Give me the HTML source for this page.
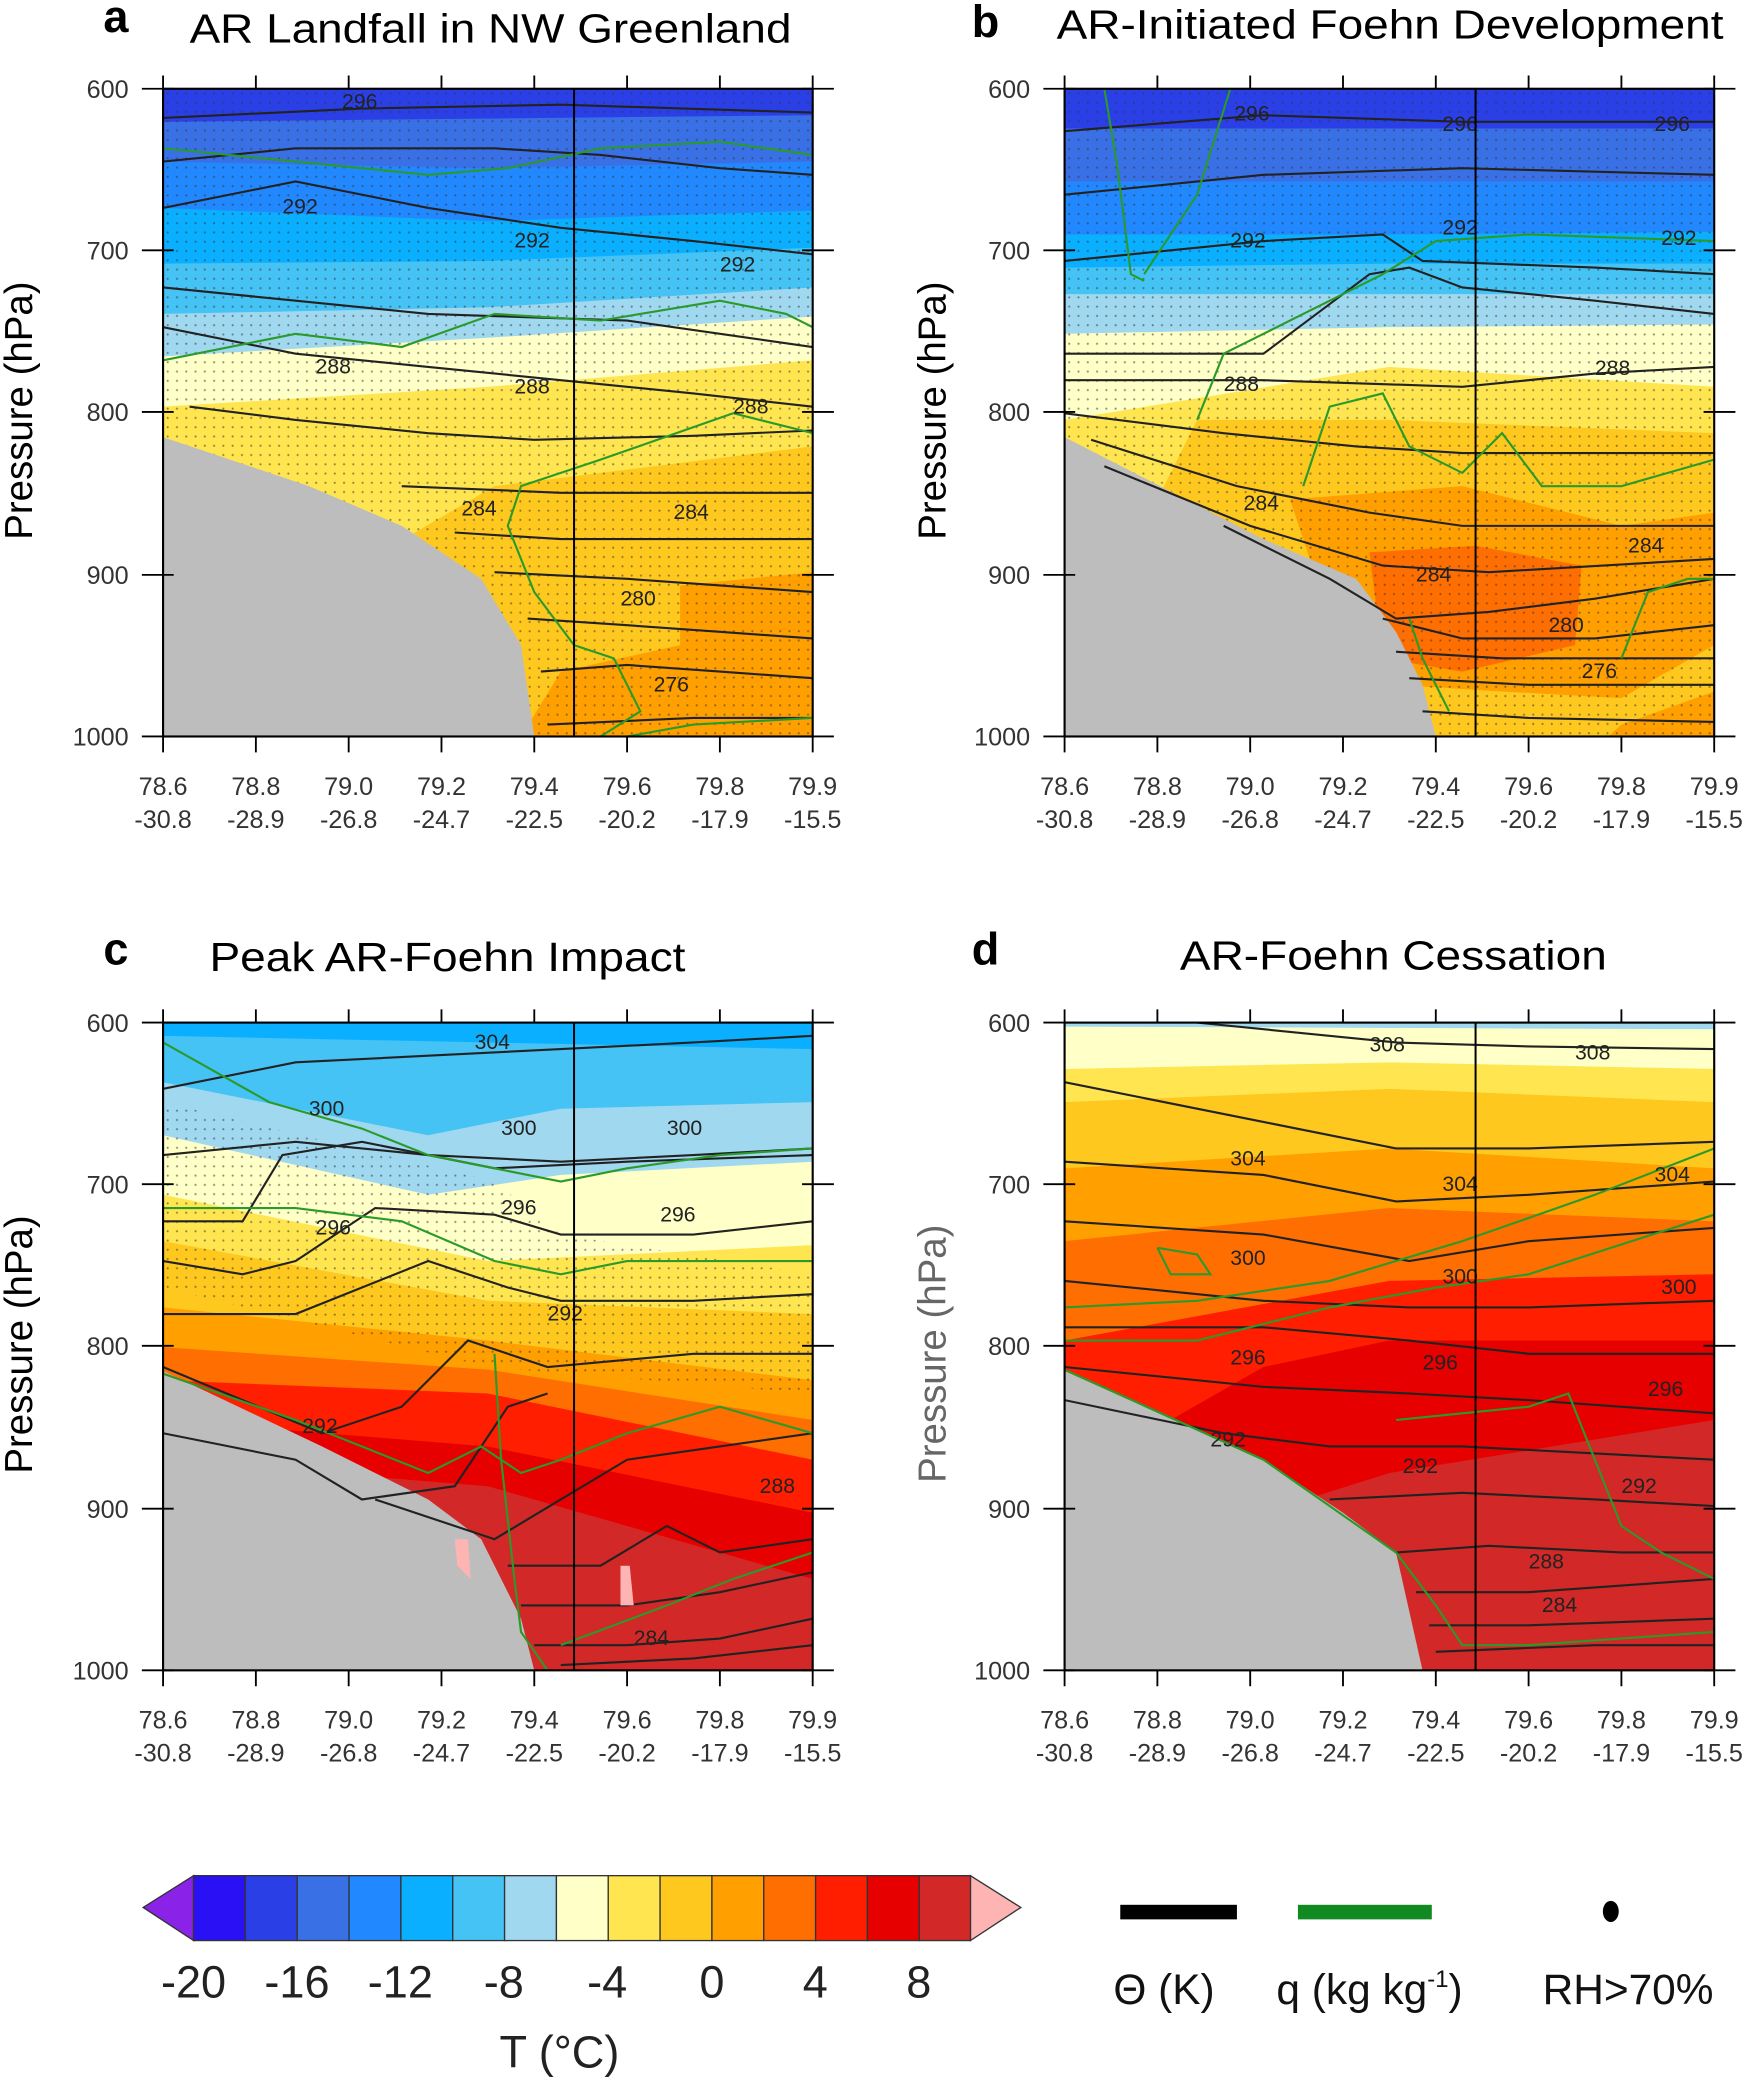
<!DOCTYPE html>
<html><head><meta charset="utf-8"><style>
html,body{margin:0;padding:0;background:#fff}
svg{display:block}
text{font-family:"Liberation Sans",sans-serif}
</style></head><body>
<svg width="1750" height="2077" viewBox="0 0 1320 1568" preserveAspectRatio="none" xmlns="http://www.w3.org/2000/svg">
<defs>
<pattern id="dots" width="7" height="7" patternUnits="userSpaceOnUse"><circle cx="3.5" cy="3.5" r="0.8" fill="#333" opacity="0.55"/></pattern>
<clipPath id="pc"><rect x="0" y="0" width="490" height="489"/></clipPath>
<g id="axes">
<rect x="0" y="0" width="490" height="489" fill="none" stroke="#000" stroke-width="1.6"/>
<g stroke="#000" stroke-width="1.4">
<line x1="0" y1="0" x2="0" y2="-10"/><line x1="70" y1="0" x2="70" y2="-10"/><line x1="140" y1="0" x2="140" y2="-10"/><line x1="210" y1="0" x2="210" y2="-10"/><line x1="280" y1="0" x2="280" y2="-10"/><line x1="350" y1="0" x2="350" y2="-10"/><line x1="420" y1="0" x2="420" y2="-10"/><line x1="490" y1="0" x2="490" y2="-10"/>
<line x1="0" y1="489" x2="0" y2="501"/><line x1="70" y1="489" x2="70" y2="501"/><line x1="140" y1="489" x2="140" y2="501"/><line x1="210" y1="489" x2="210" y2="501"/><line x1="280" y1="489" x2="280" y2="501"/><line x1="350" y1="489" x2="350" y2="501"/><line x1="420" y1="489" x2="420" y2="501"/><line x1="490" y1="489" x2="490" y2="501"/>
<line x1="-16" y1="0" x2="8" y2="0"/><line x1="-16" y1="122" x2="8" y2="122"/><line x1="-16" y1="244" x2="8" y2="244"/><line x1="-16" y1="367" x2="8" y2="367"/><line x1="-16" y1="489" x2="8" y2="489"/>
<line x1="482" y1="0" x2="506" y2="0"/><line x1="482" y1="122" x2="506" y2="122"/><line x1="482" y1="244" x2="506" y2="244"/><line x1="482" y1="367" x2="506" y2="367"/><line x1="482" y1="489" x2="506" y2="489"/>
</g>
<g font-size="19" fill="#333" text-anchor="end">
<text x="-26" y="7">600</text><text x="-26" y="129">700</text><text x="-26" y="251">800</text><text x="-26" y="374">900</text><text x="-26" y="496">1000</text>
</g>
<g font-size="19" fill="#333" text-anchor="middle">
<text x="0" y="533">78.6</text><text x="70" y="533">78.8</text><text x="140" y="533">79.0</text><text x="210" y="533">79.2</text><text x="280" y="533">79.4</text><text x="350" y="533">79.6</text><text x="420" y="533">79.8</text><text x="490" y="533">79.9</text>
<text x="0" y="558">-30.8</text><text x="70" y="558">-28.9</text><text x="140" y="558">-26.8</text><text x="210" y="558">-24.7</text><text x="280" y="558">-22.5</text><text x="350" y="558">-20.2</text><text x="420" y="558">-17.9</text><text x="490" y="558">-15.5</text>
</g>
</g>
</defs>

<!-- Panel a -->
<g transform="translate(123,67)">
<g clip-path="url(#pc)">
<rect width="490" height="489" fill="#ffc81e"/>
<polygon points="390,375 490,365 490,489 270,489 300,440 390,420" fill="#ffa000"/>
<polygon points="0,0 490,0 490,270 250,300 130,370 0,330" fill="#ffe650"/>
<polygon points="0,0 490,0 490,205 245,225 0,240" fill="#ffffc8"/>
<polygon points="0,0 490,0 490,172 245,188 0,202" fill="#a0d8f0"/>
<polygon points="0,0 490,0 490,150 245,165 0,170" fill="#46c3f5"/>
<polygon points="0,0 490,0 490,120 245,130 0,132" fill="#0ab0ff"/>
<polygon points="0,0 490,0 490,92 245,100 0,90" fill="#2288ff"/>
<polygon points="0,0 490,0 490,55 245,60 0,55" fill="#3a70e6"/>
<polygon points="0,0 490,0 490,20 0,25" fill="#2a40e6"/>
<rect width="490" height="489" fill="url(#dots)"/>
<polygon points="0,263 110,300 180,330 240,370 270,420 280,489 0,489" fill="#bdbdbd"/>
<g fill="none" stroke="#222" stroke-width="1.6">
<polyline points="0,22 150,15 300,12 490,18"/>
<polyline points="0,55 100,45 250,45 330,50 420,60 490,65"/>
<polyline points="0,90 100,70 200,90 300,105 400,115 490,125"/>
<polyline points="0,150 100,160 200,170 260,172 350,175 490,195"/>
<polyline points="0,180 100,200 200,210 300,220 400,230 490,240"/>
<polyline points="20,240 100,250 200,260 280,265 400,262 490,258"/>
<polyline points="180,300 300,305 400,305 490,305"/>
<polyline points="220,335 300,340 400,340 490,340"/>
<polyline points="250,365 350,370 420,375 490,380"/>
<polyline points="275,400 350,405 420,410 490,415"/>
<polyline points="285,440 350,435 420,440 490,445"/>
<polyline points="290,480 400,475 490,475"/>
</g>
<g fill="none" stroke="#2a9a2a" stroke-width="1.6">
<polyline points="0,45 100,55 200,65 260,60 330,45 420,40 490,50"/>
<polyline points="0,205 100,185 180,195 250,170 330,175 420,160 470,170 490,180"/>
<polyline points="490,260 430,245 330,280 300,290 270,300 260,330 280,380 310,420 340,430 360,470 330,489"/>
<polyline points="350,489 400,480 490,475"/>
</g>
<g font-size="16" fill="#222"><text x="135" y="15">296</text><text x="90" y="94">292</text><text x="265" y="120">292</text><text x="420" y="138">292</text><text x="115" y="215">288</text><text x="265" y="230">288</text><text x="430" y="245">288</text><text x="225" y="322">284</text><text x="385" y="325">284</text><text x="345" y="390">280</text><text x="370" y="455">276</text></g>
<line x1="310" y1="0" x2="310" y2="489" stroke="#000" stroke-width="1.5"/>
</g>
<use href="#axes"/>
</g>

<!-- Panel b -->
<g transform="translate(803,67)">
<g clip-path="url(#pc)">
<rect width="490" height="489" fill="#ffc81e"/>
<polygon points="170,310 300,300 420,330 490,320 490,420 420,460 330,455 250,450 200,400" fill="#ffa000"/>
<polygon points="230,350 310,345 390,360 385,420 300,440 240,430" fill="#ff6e00"/>
<polygon points="420,480 490,455 490,489 410,489" fill="#ffa000"/>
<polygon points="0,0 490,0 490,300 300,290 200,300 100,330 0,380" fill="#ffc81e"/>
<polygon points="0,0 490,0 490,260 245,250 100,250 60,330 0,320" fill="#ffe650"/>
<polygon points="0,0 490,0 490,225 245,210 0,250" fill="#ffffc8"/>
<polygon points="0,0 490,0 490,178 245,180 0,185" fill="#a0d8f0"/>
<polygon points="0,0 490,0 490,155 245,155 0,155" fill="#46c3f5"/>
<polygon points="0,0 490,0 490,132 245,132 0,135" fill="#0ab0ff"/>
<polygon points="0,0 490,0 490,108 245,110 0,110" fill="#2288ff"/>
<polygon points="0,0 490,0 490,70 245,70 0,70" fill="#3a70e6"/>
<polygon points="0,0 490,0 490,30 0,30" fill="#2a40e6"/>
<rect width="490" height="489" fill="url(#dots)"/>
<polygon points="0,263 150,340 220,370 250,410 270,450 280,489 0,489" fill="#bdbdbd"/>
<g fill="none" stroke="#222" stroke-width="1.6">
<polyline points="0,32 150,20 300,25 490,25"/>
<polyline points="0,80 150,65 300,60 490,65"/>
<polyline points="0,130 150,115 240,110 270,130 400,135 490,140"/>
<polyline points="0,200 150,200 230,140 260,135 300,150 400,160 490,170"/>
<polyline points="0,220 150,220 300,225 400,215 490,210"/>
<polyline points="0,245 120,260 220,270 300,275 490,275"/>
<polyline points="20,265 130,300 230,320 300,330 490,330"/>
<polyline points="30,285 140,330 240,360 320,365 490,355"/>
<polyline points="120,330 200,370 250,400 320,395 400,385 490,370"/>
<polyline points="240,400 300,415 400,415 490,405"/>
<polyline points="250,425 330,430 420,430 490,430"/>
<polyline points="260,445 350,450 420,450 490,450"/>
<polyline points="270,470 350,475 490,478"/>
</g>
<g fill="none" stroke="#2a9a2a" stroke-width="1.6">
<polyline points="30,0 40,60 50,140 60,145"/>
<polyline points="125,0 100,80 60,140"/>
<polyline points="100,250 120,200 180,170 240,140 280,115 350,110 490,115"/>
<polyline points="180,300 200,240 240,230 260,270 300,290 330,260 360,300 420,300 490,280"/>
<polyline points="260,400 270,430 290,470"/>
<polyline points="420,430 440,380 470,370 490,370"/>
</g>
<g font-size="16" fill="#222"><text x="128" y="24">296</text><text x="285" y="32">296</text><text x="445" y="32">296</text><text x="125" y="120">292</text><text x="285" y="110">292</text><text x="450" y="118">292</text><text x="120" y="228">288</text><text x="400" y="216">288</text><text x="135" y="318">284</text><text x="265" y="372">284</text><text x="425" y="350">284</text><text x="365" y="410">280</text><text x="390" y="445">276</text></g>
<line x1="310" y1="0" x2="310" y2="489" stroke="#000" stroke-width="1.5"/>
</g>
<use href="#axes"/>
</g>

<!-- Panel c -->
<g transform="translate(123,772)">
<g clip-path="url(#pc)">
<rect width="490" height="489" fill="#d22828"/>
<polygon points="0,0 490,0 490,420 245,350 0,330" fill="#e60000"/>
<polygon points="0,0 490,0 490,370 245,320 0,300" fill="#ff1e00"/>
<polygon points="0,0 490,0 490,330 245,280 0,270" fill="#ff6e00"/>
<polygon points="0,0 490,0 490,300 245,262 0,245" fill="#ffa000"/>
<polygon points="0,0 490,0 490,270 245,240 0,215" fill="#ffc81e"/>
<polygon points="0,0 490,0 490,220 245,210 0,165" fill="#ffe650"/>
<polygon points="0,0 490,0 490,168 245,180 0,130" fill="#ffffc8"/>
<polygon points="0,0 490,0 490,105 300,115 200,130 0,85" fill="#a0d8f0"/>
<polygon points="0,0 490,0 490,60 300,65 200,85 0,45" fill="#46c3f5"/>
<polygon points="0,0 490,0 490,20 0,10" fill="#0ab0ff"/>
<polygon points="0,60 250,120 300,160 490,190 490,280 245,260 0,200" fill="url(#dots)"/>
<polygon points="0,263 120,320 200,360 240,390 270,450 280,489 0,489" fill="#bdbdbd"/>
<g fill="none" stroke="#222" stroke-width="1.6">
<polyline points="0,50 100,30 200,25 300,20 400,15 490,10"/>
<polyline points="0,100 100,90 200,100 300,105 400,100 490,95"/>
<polyline points="0,150 60,150 90,100 150,90 250,110 350,105 490,100"/>
<polyline points="0,180 60,190 100,180 160,140 250,145 300,160 400,160 490,150"/>
<polyline points="0,220 100,220 200,180 260,200 300,210 400,210 490,205"/>
<polyline points="0,260 120,310 180,290 230,240 290,260 400,250 490,250"/>
<polyline points="0,310 100,330 150,360 220,350 260,290 290,280"/>
<polyline points="160,360 250,390 300,360 350,330 420,320 490,310"/>
<polyline points="260,410 330,410 380,380 420,400 490,390"/>
<polyline points="270,440 350,440 420,430 490,415"/>
<polyline points="280,470 350,470 420,465 490,450"/>
<polyline points="300,485 400,480 490,470"/>
</g>
<g fill="none" stroke="#2a9a2a" stroke-width="1.6">
<polyline points="0,15 80,60 150,80 200,100 250,110 300,120 350,110 420,100 490,95"/>
<polyline points="0,140 100,140 180,150 250,180 300,190 350,180 420,180 490,180"/>
<polyline points="0,265 100,300 200,340 240,320 270,340 300,330 350,310 420,290 490,310"/>
<polyline points="250,250 255,330 265,420 270,460 290,489"/>
<polyline points="490,400 430,420 380,440 300,470"/>
</g>
<g font-size="16" fill="#222"><text x="235" y="20">304</text><text x="110" y="70">300</text><text x="255" y="85">300</text><text x="380" y="85">300</text><text x="115" y="160">296</text><text x="255" y="145">296</text><text x="375" y="150">296</text><text x="290" y="225">292</text><text x="105" y="310">292</text><text x="450" y="355">288</text><text x="355" y="470">284</text></g>
<polygon points="220,390 230,390 232,420 222,410" fill="#ffb4b4"/>
<polygon points="345,410 352,410 355,440 345,440" fill="#ffb4b4"/>
<line x1="310" y1="0" x2="310" y2="489" stroke="#000" stroke-width="1.5"/>
</g>
<use href="#axes"/>
</g>

<!-- Panel d -->
<g transform="translate(803,772)">
<g clip-path="url(#pc)">
<rect width="490" height="489" fill="#d22828"/>
<polygon points="0,0 490,0 490,300 245,340 150,370 0,330" fill="#e60000"/>
<polygon points="0,0 490,0 490,240 245,240 150,260 80,300 0,300" fill="#ff1e00"/>
<polygon points="0,0 490,0 490,190 245,195 0,240" fill="#ff6e00"/>
<polygon points="0,0 490,0 490,150 245,140 0,165" fill="#ffa000"/>
<polygon points="0,0 490,0 490,110 245,95 0,110" fill="#ffc81e"/>
<polygon points="0,0 490,0 490,60 245,50 0,60" fill="#ffe650"/>
<polygon points="0,0 490,0 490,35 245,30 0,35" fill="#ffffc8"/>
<polygon points="0,0 490,0 490,5 0,3 0,25 0,0" fill="#a0d8f0"/>
<polygon points="0,263 150,330 210,370 250,400 270,489 0,489" fill="#bdbdbd"/>
<g fill="none" stroke="#222" stroke-width="1.6">
<polyline points="100,0 250,15 350,18 490,20"/>
<polyline points="0,45 150,75 250,95 350,95 490,90"/>
<polyline points="0,105 150,115 250,135 350,130 490,120"/>
<polyline points="0,150 150,160 260,180 350,165 490,155"/>
<polyline points="0,195 150,210 260,215 350,215 490,210"/>
<polyline points="0,230 150,230 260,240 350,250 490,250"/>
<polyline points="0,260 150,275 260,280 350,285 490,295"/>
<polyline points="0,285 120,310 200,320 300,320 490,330"/>
<polyline points="200,360 300,355 400,360 490,365"/>
<polyline points="250,400 320,395 420,400 490,400"/>
<polyline points="265,430 350,430 420,425 490,420"/>
<polyline points="275,455 350,455 490,450"/>
<polyline points="280,475 400,470 490,470"/>
</g>
<g fill="none" stroke="#2a9a2a" stroke-width="1.6">
<polyline points="0,215 100,210 200,195 250,180 300,165 400,130 490,95"/>
<polyline points="0,240 100,240 200,215 280,200 350,190 490,145"/>
<polyline points="70,170 100,175 110,190 80,190 70,170"/>
<polyline points="250,300 300,295 350,290 380,280 420,380 450,400 490,420"/>
<polyline points="0,262 150,330 250,400 280,440 300,470 350,470 490,460"/>
</g>
<g font-size="16" fill="#222"><text x="230" y="22">308</text><text x="385" y="28">308</text><text x="125" y="108">304</text><text x="285" y="127">304</text><text x="445" y="120">304</text><text x="125" y="183">300</text><text x="285" y="197">300</text><text x="450" y="205">300</text><text x="125" y="258">296</text><text x="270" y="262">296</text><text x="440" y="282">296</text><text x="110" y="320">292</text><text x="255" y="340">292</text><text x="420" y="355">292</text><text x="350" y="412">288</text><text x="360" y="445">284</text></g>
<line x1="310" y1="0" x2="310" y2="489" stroke="#000" stroke-width="1.5"/>
</g>
<use href="#axes"/>
</g>

<!-- titles -->
<g font-size="31">
<text x="78" y="24" font-weight="bold" font-size="34">a</text><text x="143" y="32" textLength="454" lengthAdjust="spacingAndGlyphs">AR Landfall in NW Greenland</text>
<text x="733" y="28" font-weight="bold" font-size="34">b</text><text x="797" y="29" textLength="503" lengthAdjust="spacingAndGlyphs">AR-Initiated Foehn Development</text>
<text x="78" y="728" font-weight="bold" font-size="34">c</text><text x="158" y="733" textLength="359" lengthAdjust="spacingAndGlyphs">Peak AR-Foehn Impact</text>
<text x="733" y="728" font-weight="bold" font-size="34">d</text><text x="890" y="732" textLength="322" lengthAdjust="spacingAndGlyphs">AR-Foehn Cessation</text>
</g>
<g font-size="29" text-anchor="middle">
<text transform="translate(24,310) rotate(-90)">Pressure (hPa)</text>
<text transform="translate(713,310) rotate(-90)">Pressure (hPa)</text>
<text transform="translate(24,1015) rotate(-90)">Pressure (hPa)</text>
<text transform="translate(713,1022) rotate(-90)" fill="#666">Pressure (hPa)</text>
</g>

<!-- colorbar -->
<g stroke="#333" stroke-width="1">
<polygon points="108,1440 146,1416 146,1465" fill="#8a22e8"/>
<polygon points="732,1416 770,1440 732,1465" fill="#ffb4b4"/>
<rect x="146" y="1416" width="39.1" height="49" fill="#2a10f5"/>
<rect x="185.1" y="1416" width="39.1" height="49" fill="#2a40e6"/>
<rect x="224.2" y="1416" width="39.1" height="49" fill="#3a70e6"/>
<rect x="263.3" y="1416" width="39.1" height="49" fill="#2288ff"/>
<rect x="302.4" y="1416" width="39.1" height="49" fill="#0ab0ff"/>
<rect x="341.5" y="1416" width="39.1" height="49" fill="#46c3f5"/>
<rect x="380.6" y="1416" width="39.1" height="49" fill="#a0d8f0"/>
<rect x="419.7" y="1416" width="39.1" height="49" fill="#ffffc8"/>
<rect x="458.8" y="1416" width="39.1" height="49" fill="#ffe650"/>
<rect x="497.9" y="1416" width="39.1" height="49" fill="#ffc81e"/>
<rect x="537" y="1416" width="39.1" height="49" fill="#ffa000"/>
<rect x="576.1" y="1416" width="39.1" height="49" fill="#ff6e00"/>
<rect x="615.2" y="1416" width="39.1" height="49" fill="#ff1e00"/>
<rect x="654.3" y="1416" width="39.1" height="49" fill="#e60000"/>
<rect x="693.4" y="1416" width="38.6" height="49" fill="#d22828"/>
</g>
<g font-size="34" fill="#222" text-anchor="middle">
<text x="146" y="1508">-20</text><text x="224" y="1508">-16</text><text x="302" y="1508">-12</text><text x="380" y="1508">-8</text><text x="458" y="1508">-4</text><text x="537" y="1508">0</text><text x="615" y="1508">4</text><text x="693" y="1508">8</text>
<text x="422" y="1561">T (°C)</text>
</g>
<rect x="845" y="1438" width="88" height="11" fill="#000"/>
<rect x="979" y="1438" width="101" height="11" fill="#118a22"/>
<ellipse cx="1215" cy="1443" rx="6" ry="8" fill="#000"/>
<g font-size="32" fill="#111" text-anchor="middle">
<text x="878" y="1513">Θ (K)</text>
<text x="1033" y="1513">q (kg kg<tspan font-size="18" dy="-13">-1</tspan><tspan dy="13">)</tspan></text>
<text x="1228" y="1513">RH&gt;70%</text>
</g>
</svg>
</body></html>
